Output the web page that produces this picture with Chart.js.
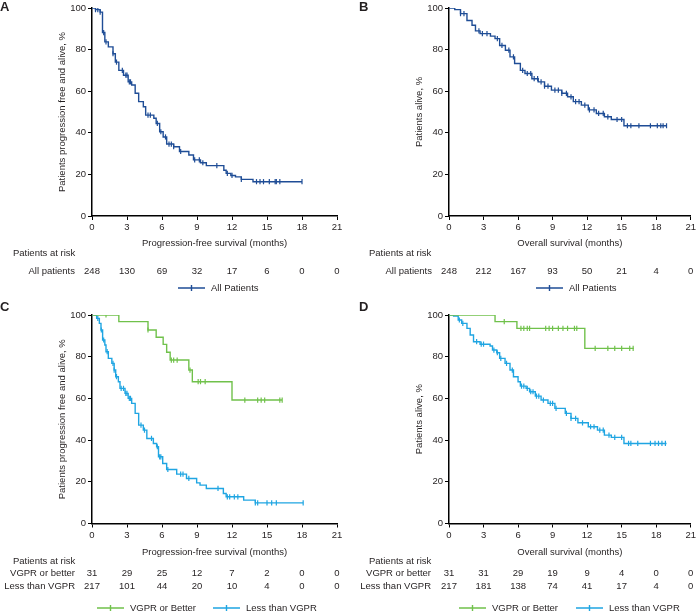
<!DOCTYPE html>
<html>
<head>
<meta charset="utf-8">
<title>Kaplan-Meier</title>
<script src="https://cdn.jsdelivr.net/npm/chart.js@4.4.0/dist/chart.umd.min.js"></script>
<style>
    body { margin: 0; background: #fff; }
    #wrap { position: relative; width: 698px; height: 612px; }
    canvas { position: absolute; }
</style>
</head>
<body>
<div id="wrap">
    <canvas id="chartA" width="349" height="298" style="left:0;top:0"></canvas>
    <canvas id="chartB" width="349" height="298" style="left:349px;top:0"></canvas>
    <canvas id="chartC" width="349" height="314" style="left:0;top:298px"></canvas>
    <canvas id="chartD" width="349" height="314" style="left:349px;top:298px"></canvas>
</div>
<script>
// x ticks / at-risk columns
const months = [0, 3, 6, 9, 12, 15, 18, 21];

// A: PFS, all patients
const pfsAllTime = [0, 0.3, 0.7, 0.9, 1.1, 1.4, 1.8, 2.0, 2.3, 2.7, 3.1, 3.4, 3.7, 4.0, 4.4, 4.6, 5.3, 5.5, 5.8, 6.1, 6.4, 7.0, 7.5, 8.3, 8.7, 9.3, 9.8, 11.3, 11.5, 11.9, 12.3, 12.8, 13.8, 18.0];
const pfsAllSurv = [100, 99.2, 98, 88.2, 83.7, 81.3, 78, 74, 70, 67.7, 64.5, 63, 59, 55, 52.5, 48.5, 47, 44.5, 40.5, 38, 34.6, 33.3, 31, 29.3, 27, 25.6, 24.2, 22, 20.5, 19.5, 18.8, 17.6, 16.5, 16.5];
const pfsAllCens = [0.3, 0.5, 0.7, 1.0, 1.2, 1.8, 2.1, 2.6, 2.9, 3.0, 3.2, 3.3, 4.8, 5.0, 5.6, 5.9, 6.3, 6.6, 6.8, 7.0, 7.6, 8.8, 9.2, 9.5, 10.7, 11.6, 12.0, 12.8, 14.1, 14.4, 14.7, 15.2, 15.7, 15.8, 16.1, 18.0];
const pfsAllRisk = [248, 130, 69, 32, 17, 6, 0, 0];

// B: OS, all patients
const osAllTime = [0, 0.5, 1.0, 1.56, 2.0, 2.3, 2.7, 3.6, 4.0, 4.4, 4.9, 5.3, 5.7, 6.2, 6.6, 7.2, 7.75, 8.3, 8.9, 9.8, 10.3, 10.8, 11.5, 12.1, 12.8, 13.5, 14.1, 15.2, 18.9];
const osAllSurv = [100, 99.2, 97.3, 94, 91.7, 89, 87.7, 86.5, 85.3, 82, 79.7, 76.5, 73.3, 70, 68.5, 66, 64.5, 62.4, 60.5, 59, 57.3, 55, 53.3, 51, 49.3, 47.7, 46.4, 43.4, 43.4];
const osAllCens = [1.0, 1.3, 2.6, 2.9, 3.3, 4.2, 4.6, 5.2, 5.6, 6.4, 6.8, 7.1, 7.4, 7.7, 8.0, 8.3, 8.6, 9.2, 9.5, 9.8, 10.2, 10.6, 11.0, 11.3, 11.8, 12.2, 12.6, 13.0, 13.4, 13.8, 14.6, 15.0, 15.5, 15.8, 16.5, 17.5, 18.1, 18.4, 18.6, 18.9];
const osAllRisk = [248, 212, 167, 93, 50, 21, 4, 0];

// C: PFS by response
const pfsVgprTime = [0, 2.3, 4.8, 5.5, 6.1, 6.4, 6.7, 8.3, 8.6, 12.0, 16.3];
const pfsVgprSurv = [100, 96.8, 92.8, 89.3, 85.9, 82.1, 78.4, 73.6, 68, 59.2, 59.2];
const pfsVgprCens = [1.2, 4.8, 6.8, 7.0, 7.3, 8.4, 9.1, 9.3, 9.7, 13.1, 14.2, 14.5, 14.8, 16.1, 16.3];
const pfsLessTime = [0, 0.4, 0.63, 0.77, 0.91, 1.1, 1.2, 1.4, 1.7, 1.9, 2.03, 2.26, 2.4, 2.83, 3.1, 3.4, 3.7, 4.0, 4.4, 4.7, 5.26, 5.54, 5.7, 6.06, 6.4, 7.26, 8.1, 8.97, 9.26, 9.8, 11.26, 11.5, 13.0, 14.0, 18.1];
const pfsLessSurv = [100, 98.4, 96, 92.8, 88, 85.6, 82.4, 79.2, 76.8, 73.6, 70.4, 68, 64.8, 62.4, 60, 57.6, 52.8, 47.2, 44.8, 40.8, 38.4, 36.8, 32, 28.8, 25.9, 23.7, 21.6, 19.5, 18.4, 16.8, 14.4, 12.8, 11.2, 9.9, 9.9];
const pfsLessCens = [0.5, 0.8, 1.0, 1.3, 1.8, 1.9, 2.1, 2.5, 2.7, 2.9, 3.0, 3.2, 3.3, 4.2, 4.5, 5.1, 5.6, 5.8, 5.9, 6.5, 7.6, 7.8, 8.3, 10.8, 11.6, 11.8, 12.2, 12.5, 14.0, 14.2, 15.0, 15.4, 15.8, 18.1];
const pfsVgprRisk = [31, 29, 25, 12, 7, 2, 0, 0];
const pfsLessRisk = [217, 101, 44, 20, 10, 4, 0, 0];

// D: OS by response
const osVgprTime = [0, 4.0, 5.9, 11.8, 16.05];
const osVgprSurv = [100, 96.8, 93.6, 84, 84];
const osVgprCens = [4.8, 6.25, 6.5, 6.8, 7.0, 8.4, 8.7, 9.0, 9.5, 9.9, 10.3, 10.9, 11.1, 12.7, 13.8, 14.4, 15.0, 15.7, 16.0];
const osLessTime = [0, 0.4, 0.8, 1.1, 1.56, 1.84, 2.13, 2.7, 3.57, 3.78, 4.15, 4.4, 4.87, 5.3, 5.6, 6.0, 6.2, 6.7, 7.0, 7.5, 8.0, 8.6, 9.2, 10.1, 10.6, 11.2, 12.1, 12.9, 13.5, 14.1, 15.2, 18.9];
const osLessSurv = [100, 99.5, 97.6, 96, 93.6, 90.4, 87.2, 86, 85.1, 83.2, 81.9, 79.2, 76.8, 73.6, 70.4, 68, 65.9, 64.8, 63.2, 61.1, 59.2, 57.6, 55.2, 52.8, 50.4, 48.3, 46.4, 44.8, 42.4, 41.3, 38.4, 38.4];
const osLessCens = [0.9, 1.2, 2.4, 2.8, 3.0, 3.9, 4.2, 4.5, 5.0, 5.5, 6.3, 6.5, 6.8, 7.1, 7.3, 7.6, 7.8, 8.2, 8.8, 9.0, 9.3, 10.2, 10.6, 11.0, 11.6, 12.3, 12.6, 13.1, 13.4, 13.9, 14.4, 15.0, 15.6, 15.8, 16.4, 17.5, 17.9, 18.2, 18.5, 18.8];
const osVgprRisk = [31, 31, 29, 19, 9, 4, 0, 0];
const osLessRisk = [217, 181, 138, 74, 41, 17, 4, 0];

const navy = '#1f4d96';
const green = '#70c14b';
const sky = '#1fa5e2';
const txt = '#231f20';
const font = '"Liberation Sans", Arial, sans-serif';
const fontSize = 9.5;

const curve = (time, surv) => time.map((t, i) => ({ x: t, y: surv[i] }));

// censor ticks sit on the step curve
const censorPoints = (time, surv, cens) => cens.map(c => {
    let s = surv[0];
    for (let i = 0; i < time.length; i++) {
        if (time[i] <= c) s = surv[i];
    }
    return { x: c, y: s };
});

const kmDatasets = (time, surv, cens, color) => [
    {
        data: curve(time, surv),
        borderColor: color,
        borderWidth: 1.4,
        stepped: true,
        pointRadius: 0,
        fill: false
    },
    {
        data: censorPoints(time, surv, cens),
        borderColor: color,
        borderWidth: 1.2,
        showLine: false,
        pointStyle: 'line',
        rotation: 90,
        pointRadius: 2.6
    }
];

const panelText = {
    id: 'panelText',
    afterDraw(chart, args, o) {
        const ctx = chart.ctx;
        const area = chart.chartArea;
        const xs = chart.scales.x;
        ctx.save();
        ctx.fillStyle = txt;
        ctx.textBaseline = 'middle';

        ctx.font = 'bold 13px ' + font;
        ctx.textAlign = 'left';
        ctx.fillText(o.letter, o.letterX, o.letterY);

        ctx.font = fontSize + 'px ' + font;
        ctx.save();
        ctx.translate(o.yTitleX, (area.top + area.bottom) / 2);
        ctx.rotate(-Math.PI / 2);
        ctx.textAlign = 'center';
        ctx.fillText(o.yTitle, 0, 0);
        ctx.restore();

        ctx.textAlign = 'center';
        ctx.fillText(o.xTitle, (area.left + area.right) / 2, o.xTitleY);

        ctx.textAlign = 'left';
        ctx.fillText('Patients at risk', o.riskX, o.riskY);

        o.rows.forEach(row => {
            ctx.textAlign = 'right';
            ctx.fillText(row.label, o.labelRight, row.y);
            ctx.textAlign = 'center';
            row.values.forEach((v, i) => {
                ctx.fillText(String(v), xs.getPixelForValue(months[i]), row.y);
            });
        });

        o.legend.forEach(item => {
            ctx.strokeStyle = item.color;
            ctx.lineWidth = 1.4;
            ctx.beginPath();
            ctx.moveTo(item.x, o.legendY);
            ctx.lineTo(item.x + 27, o.legendY);
            ctx.moveTo(item.x + 13.5, o.legendY - 3);
            ctx.lineTo(item.x + 13.5, o.legendY + 3);
            ctx.stroke();
            ctx.textAlign = 'left';
            ctx.fillText(item.label, item.x + 33, o.legendY);
        });
        ctx.restore();
    }
};

const makeConfig = (datasets, yWidth, padding, text) => ({
    type: 'line',
    data: { datasets: datasets },
    options: {
        responsive: false,
        animation: false,
        layout: { padding: padding },
        plugins: {
            legend: { display: false },
            tooltip: { enabled: false },
            panelText: text
        },
        scales: {
            x: {
                type: 'linear',
                min: 0,
                max: 21,
                afterFit: s => { s.height = 20; },
                afterBuildTicks: s => { s.ticks = months.map(m => ({ value: m })); },
                ticks: { color: txt, font: { size: fontSize, family: font }, padding: 2, maxRotation: 0 },
                grid: { drawOnChartArea: false, drawTicks: true, tickLength: 4, color: '#000' },
                border: { color: '#000', width: 1.5 }
            },
            y: {
                min: 0,
                max: 100,
                afterFit: s => { s.width = yWidth; },
                ticks: { stepSize: 20, color: txt, font: { size: fontSize, family: font }, padding: 2 },
                grid: { drawOnChartArea: false, drawTicks: true, tickLength: 4, color: '#000' },
                border: { color: '#000', width: 1.5 }
            }
        }
    },
    plugins: [panelText]
});

const chartA = new Chart(document.getElementById('chartA'), makeConfig(
    kmDatasets(pfsAllTime, pfsAllSurv, pfsAllCens, navy),
    92, { top: 8, right: 12, bottom: 62, left: 0 },
    {
        letter: 'A', letterX: 0, letterY: 7,
        yTitle: 'Patients progression free and alive, %', yTitleX: 62,
        xTitle: 'Progression-free survival (months)', xTitleY: 243,
        riskX: 13, riskY: 253, labelRight: 75,
        rows: [{ label: 'All patients', values: pfsAllRisk, y: 271 }],
        legendY: 288,
        legend: [{ label: 'All Patients', color: navy, x: 178 }]
    }
));

const chartB = new Chart(document.getElementById('chartB'), makeConfig(
    kmDatasets(osAllTime, osAllSurv, osAllCens, navy),
    100, { top: 8, right: 6, bottom: 62, left: 0 },
    {
        letter: 'B', letterX: 10, letterY: 7,
        yTitle: 'Patients alive, %', yTitleX: 70,
        xTitle: 'Overall survival (months)', xTitleY: 243,
        riskX: 20, riskY: 253, labelRight: 83,
        rows: [{ label: 'All patients', values: osAllRisk, y: 271 }],
        legendY: 288,
        legend: [{ label: 'All Patients', color: navy, x: 187 }]
    }
));

const chartC = new Chart(document.getElementById('chartC'), makeConfig(
    kmDatasets(pfsVgprTime, pfsVgprSurv, pfsVgprCens, green)
        .concat(kmDatasets(pfsLessTime, pfsLessSurv, pfsLessCens, sky)),
    92, { top: 17, right: 12, bottom: 68.5, left: 0 },
    {
        letter: 'C', letterX: 0, letterY: 9,
        yTitle: 'Patients progression free and alive, %', yTitleX: 62,
        xTitle: 'Progression-free survival (months)', xTitleY: 254,
        riskX: 13, riskY: 263, labelRight: 75,
        rows: [
            { label: 'VGPR or better', values: pfsVgprRisk, y: 275 },
            { label: 'Less than VGPR', values: pfsLessRisk, y: 288 }
        ],
        legendY: 310,
        legend: [
            { label: 'VGPR or Better', color: green, x: 97 },
            { label: 'Less than VGPR', color: sky, x: 213 }
        ]
    }
));

const chartD = new Chart(document.getElementById('chartD'), makeConfig(
    kmDatasets(osVgprTime, osVgprSurv, osVgprCens, green)
        .concat(kmDatasets(osLessTime, osLessSurv, osLessCens, sky)),
    100, { top: 17, right: 6, bottom: 68.5, left: 0 },
    {
        letter: 'D', letterX: 10, letterY: 9,
        yTitle: 'Patients alive, %', yTitleX: 70,
        xTitle: 'Overall survival (months)', xTitleY: 254,
        riskX: 20, riskY: 263, labelRight: 82,
        rows: [
            { label: 'VGPR or better', values: osVgprRisk, y: 275 },
            { label: 'Less than VGPR', values: osLessRisk, y: 288 }
        ],
        legendY: 310,
        legend: [
            { label: 'VGPR or Better', color: green, x: 110 },
            { label: 'Less than VGPR', color: sky, x: 227 }
        ]
    }
));
</script>
</body>
</html>
